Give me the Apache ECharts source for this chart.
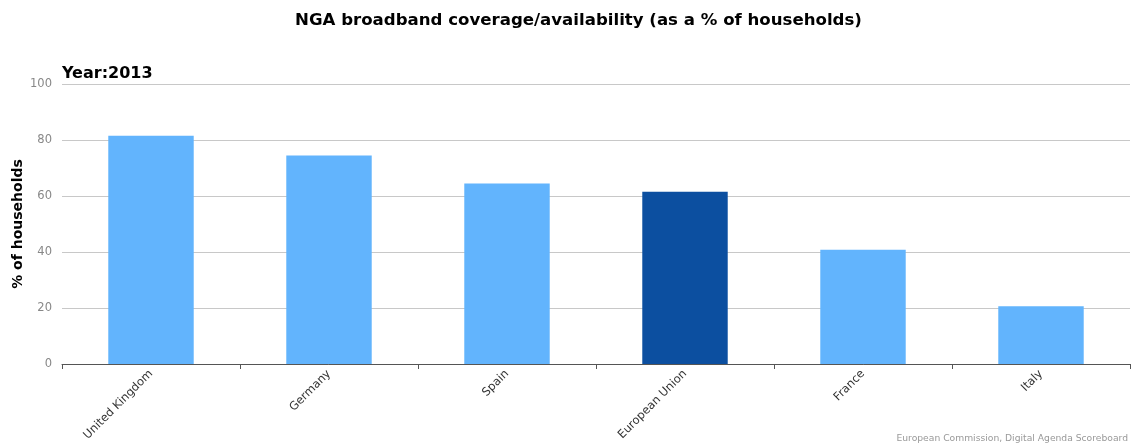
<!DOCTYPE html>
<html>
<head>
<meta charset="utf-8">
<script src="https://cdn.jsdelivr.net/npm/echarts@6/dist/echarts.min.js"></script>
<style>
  html, body { margin: 0; padding: 0; background: #fff; }
  #chart { width: 1131px; height: 446px; }
</style>
</head>
<body>
<div id="chart"></div>
<script>
// NGA broadband coverage, 2013
const countries = ['United Kingdom', 'Germany', 'Spain', 'European Union', 'France', 'Italy'];
const coverage = [81.5, 74.5, 64.5, 61.5, 40.8, 20.6];
const highlighted = 'European Union';
const yTicks = [0, 20, 40, 60, 80, 100];

const lightBlue = '#62b4fd';
const darkBlue = '#0c4fa0';

const chart = echarts.init(document.getElementById('chart'), null, { renderer: 'canvas' });

chart.setOption({
  animation: false,
  backgroundColor: '#fff',
  title: [
    {
      text: 'NGA broadband coverage/availability (as a % of households)',
      left: 295,
      top: 12,
      padding: 0,
      textStyle: { fontFamily: 'DejaVu Sans', fontWeight: 'bold', fontSize: 16.6, color: '#000' }
    },
    {
      text: 'Year:2013',
      left: 62,
      top: 66,
      padding: 0,
      textStyle: { fontFamily: 'DejaVu Sans', fontWeight: 'bold', fontSize: 16, color: '#000' }
    },
    {
      text: 'European Commission, Digital Agenda Scoreboard',
      right: 3,
      top: 434,
      padding: 0,
      textStyle: { fontFamily: 'DejaVu Sans', fontWeight: 'normal', fontSize: 9.2, color: '#999' }
    }
  ],
  grid: { left: 62, right: 1, top: 84, bottom: 82, containLabel: false, outerBoundsMode: 'none' },
  xAxis: {
    type: 'category',
    data: countries,
    boundaryGap: true,
    axisLine: { show: true, lineStyle: { color: '#555', width: 1 } },
    axisTick: { show: true, alignWithLabel: false, length: 5, lineStyle: { color: '#555' } },
    axisLabel: {
      rotate: 45,
      interval: 0,
      margin: 8,
      fontFamily: 'DejaVu Sans',
      fontSize: 11.5,
      color: '#333'
    },
    splitLine: { show: false }
  },
  yAxis: {
    type: 'value',
    min: 0,
    max: yTicks[yTicks.length - 1],
    interval: 20,
    name: '% of households',
    nameLocation: 'middle',
    nameGap: 37,
    nameMoveOverlap: false,
    nameRotate: 90,
    nameTextStyle: { fontFamily: 'DejaVu Sans', fontWeight: 'bold', fontSize: 14, color: '#000' },
    axisLine: { show: false },
    axisTick: { show: false },
    axisLabel: {
      margin: 10,
      fontFamily: 'DejaVu Sans',
      fontSize: 11.5,
      color: '#888',
      formatter: v => (yTicks.includes(v) ? String(v) : '')
    },
    splitLine: { show: true, lineStyle: { color: '#c8c8c8', width: 1 } }
  },
  series: [
    {
      type: 'bar',
      barWidth: '48%',
      data: countries.map((c, i) => ({
        value: coverage[i],
        itemStyle: { color: c === highlighted ? darkBlue : lightBlue }
      }))
    }
  ]
});
</script>
</body>
</html>
